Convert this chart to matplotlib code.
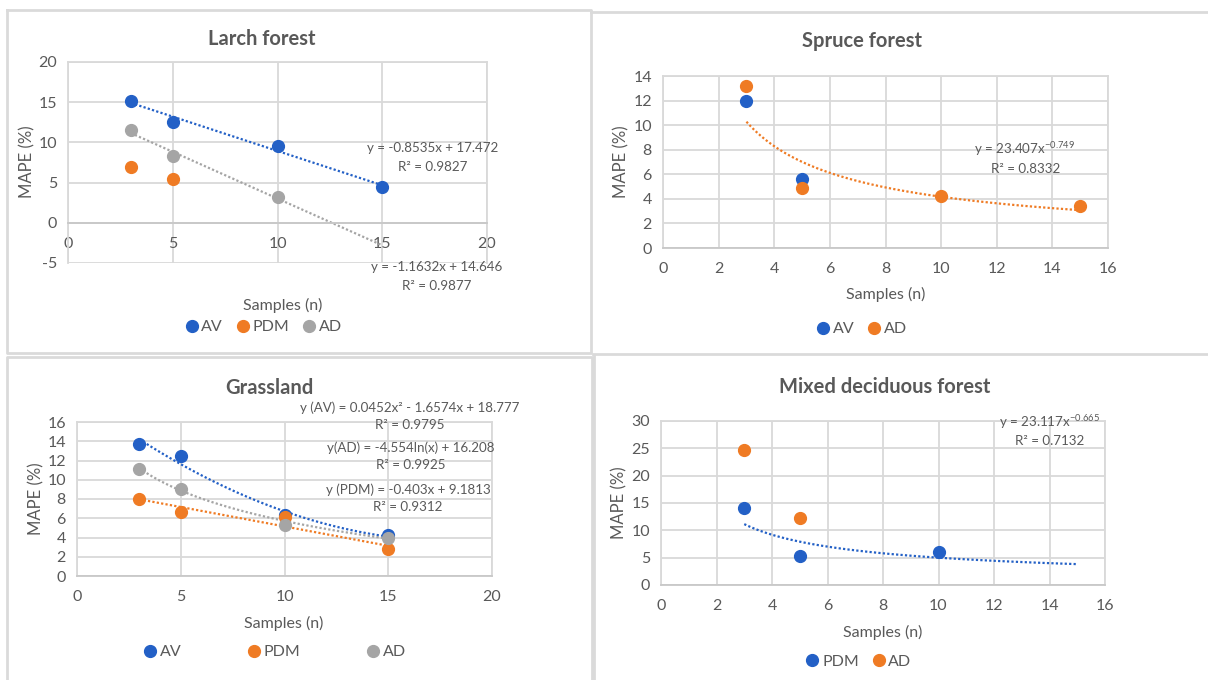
import numpy as np
import matplotlib
matplotlib.use("Agg")
import matplotlib.pyplot as plt
from matplotlib.lines import Line2D

plt.rcParams['font.family'] = ['Lato', 'DejaVu Sans']
plt.rcParams['mathtext.default'] = 'regular'
plt.rcParams['axes.unicode_minus'] = False

W, H = 1208, 680
BLUE = '#2360c6'
ORANGE = '#ef7b24'
GREY = '#a5a5a5'
TXT = '#595959'
GRID = '#d9d9d9'

# ---------------- data ----------------
larch_x = [3, 5, 10, 15]
larch_av = [15.2, 12.5, 9.6, 4.4]
larch_pdm_x = [3, 5]
larch_pdm = [7.0, 5.4]
larch_ad_x = [3, 5, 10]
larch_ad = [11.6, 8.3, 3.2]
larch_av_fit = (-0.8535, 17.472)
larch_ad_fit = (-1.1632, 14.646)

spruce_av_x = [3, 5]
spruce_av = [12.0, 5.65]
spruce_ad_x = [3, 5, 10, 15]
spruce_ad = [13.2, 4.85, 4.2, 3.4]
spruce_ad_fit = (23.407, -0.749)

grass_x = [3, 5, 10, 15]
grass_av = [13.7, 12.45, 6.3, 4.3]
grass_pdm = [8.0, 6.7, 6.1, 2.8]
grass_ad = [11.1, 9.05, 5.3, 4.0]
grass_av_fit = (0.0452, -1.6574, 18.777)
grass_ad_fit = (-4.554, 16.208)
grass_pdm_fit = (-0.403, 9.1813)

mixed_pdm_x = [3, 5, 10]
mixed_pdm = [14.1, 5.35, 6.0]
mixed_ad_x = [3, 5]
mixed_ad = [24.7, 12.25]
mixed_pdm_fit = (23.117, -0.665)

fit_x = np.linspace(3, 15, 100)

fig = plt.figure(figsize=(W / 100, H / 100), dpi=100)


def fx(x):
    return x / W


def fy(y):
    return 1 - y / H


def add_ax(x0, y0, x1, y1):
    return fig.add_axes([fx(x0), fy(y1), (x1 - x0) / W, (y1 - y0) / H])


def style(ax, xlim, xticks, ylim, yticks):
    ax.set_xlim(*xlim)
    ax.set_ylim(*ylim)
    ax.set_xticks(xticks)
    ax.set_yticks(yticks)
    ax.grid(True, color=GRID, lw=1.3)
    ax.set_axisbelow(True)
    for s in ax.spines.values():
        s.set_color(GRID)
        s.set_linewidth(1.3)
    ax.spines['bottom'].set_color('#c8c8c8')
    ax.tick_params(length=0, labelsize=11.5, labelcolor=TXT)
    ax.tick_params(axis='x', pad=10)
    ax.tick_params(axis='y', pad=8)


def ftext(x, y, s, **kw):
    kw.setdefault('color', TXT)
    kw.setdefault('fontsize', 9.6)
    kw.setdefault('ha', 'center')
    kw.setdefault('va', 'center')
    fig.text(fx(x), fy(y), s, **kw)


def legend(ax, handles, x, y, spacing=1.0):
    ax.legend(handles=handles, loc='center', bbox_to_anchor=(fx(x), fy(y)),
              bbox_transform=fig.transFigure, ncol=len(handles), frameon=False,
              handlelength=0.5, handletextpad=0.35, columnspacing=spacing,
              fontsize=11.5, labelcolor=TXT)


def mk(color, label):
    return Line2D([], [], marker='o', ls='none', color=color, markersize=8.5, label=label)


DOT = (0, (1, 1))
MS = 8.5
TSIZE = 14.5
LSIZE = 11.5
YSIZE = 12

# ---------------- panel borders ----------------
border_kw = dict(color='#dadada', lw=2, transform=fig.transFigure)
fig.add_artist(Line2D([fx(7), fx(591), fx(591), fx(7), fx(7)],
                      [fy(10), fy(10), fy(353), fy(353), fy(10)], **border_kw))
fig.add_artist(Line2D([fx(591), fx(1210)], [fy(12), fy(12)], **border_kw))
fig.add_artist(Line2D([fx(593), fx(1210)], [fy(354), fy(354)], **border_kw))
fig.add_artist(Line2D([fx(7), fx(7), fx(592), fx(592)],
                      [fy(690), fy(357), fy(357), fy(690)], **border_kw))
fig.add_artist(Line2D([fx(594), fx(594)], [fy(355), fy(690)], **border_kw))

# ---------------- Larch forest ----------------
ax = add_ax(68, 62, 487, 263)
style(ax, (0, 20), [0, 5, 10, 15, 20], (-5, 20), [-5, 0, 5, 10, 15, 20])
ax.spines['bottom'].set_position(('data', 0))
ax.plot(fit_x, larch_av_fit[0] * fit_x + larch_av_fit[1], ls=DOT, lw=1.6, color=BLUE)
ax.plot(fit_x, larch_ad_fit[0] * fit_x + larch_ad_fit[1], ls=DOT, lw=1.6, color=GREY)
ax.plot(larch_x, larch_av, 'o', color=BLUE, ms=MS)
ax.plot(larch_pdm_x, larch_pdm, 'o', color=ORANGE, ms=MS)
ax.plot(larch_ad_x, larch_ad, 'o', color=GREY, ms=MS)
ftext(262, 39, 'Larch forest', fontsize=TSIZE, fontweight='bold')
ftext(283, 305, 'Samples (n)', fontsize=LSIZE)
ftext(27, 162, 'MAPE (%)', fontsize=YSIZE, rotation=90)
ftext(433, 148, 'y = -0.8535x + 17.472')
ftext(433, 167, 'R² = 0.9827')
ftext(437, 267, 'y = -1.1632x + 14.646')
ftext(437, 286, 'R² = 0.9877')
legend(ax, [mk(BLUE, 'AV'), mk(ORANGE, 'PDM'), mk(GREY, 'AD')], 265, 327)

# ---------------- Spruce forest ----------------
ax = add_ax(663, 76, 1108, 248)
style(ax, (0, 16), list(range(0, 17, 2)), (0, 14), list(range(0, 15, 2)))
ax.plot(fit_x, spruce_ad_fit[0] * fit_x ** spruce_ad_fit[1], ls=DOT, lw=1.6, color=ORANGE)
ax.plot(spruce_av_x, spruce_av, 'o', color=BLUE, ms=MS)
ax.plot(spruce_ad_x, spruce_ad, 'o', color=ORANGE, ms=MS)
ftext(862, 41, 'Spruce forest', fontsize=TSIZE, fontweight='bold')
ftext(886, 294, 'Samples (n)', fontsize=LSIZE)
ftext(621, 162, 'MAPE (%)', fontsize=YSIZE, rotation=90)
ftext(1025, 149, 'y = 23.407x$^{-0.749}$')
ftext(1026, 169, 'R² = 0.8332')
legend(ax, [mk(BLUE, 'AV'), mk(ORANGE, 'AD')], 863, 329)

# ---------------- Grassland ----------------
ax = add_ax(77, 422, 492, 576)
style(ax, (0, 20), [0, 5, 10, 15, 20], (0, 16), list(range(0, 17, 2)))
a, b, c = grass_av_fit
ax.plot(fit_x, a * fit_x ** 2 + b * fit_x + c, ls=DOT, lw=1.6, color=BLUE)
ax.plot(fit_x, grass_ad_fit[0] * np.log(fit_x) + grass_ad_fit[1], ls=DOT, lw=1.6, color=GREY)
ax.plot(fit_x, grass_pdm_fit[0] * fit_x + grass_pdm_fit[1], ls=DOT, lw=1.6, color=ORANGE)
ax.plot(grass_x, grass_av, 'o', color=BLUE, ms=MS)
ax.plot(grass_x, grass_pdm, 'o', color=ORANGE, ms=MS)
ax.plot(grass_x, grass_ad, 'o', color=GREY, ms=MS)
ftext(269, 388, 'Grassland', fontsize=TSIZE, fontweight='bold')
ftext(284, 623, 'Samples (n)', fontsize=LSIZE)
ftext(36, 499, 'MAPE (%)', fontsize=YSIZE, rotation=90)
ftext(410, 408, 'y (AV) = 0.0452x² - 1.6574x + 18.777')
ftext(410, 425, 'R² = 0.9795')
ftext(411, 448, 'y(AD) = -4.554ln(x) + 16.208')
ftext(411, 465, 'R² = 0.9925')
ftext(408, 490, 'y (PDM) = -0.403x + 9.1813')
ftext(408, 507, 'R² = 0.9312')
legend(ax, [mk(BLUE, 'AV'), mk(ORANGE, 'PDM'), mk(GREY, 'AD')], 276, 652, spacing=4.3)

# ---------------- Mixed deciduous forest ----------------
ax = add_ax(661, 421, 1105, 585)
style(ax, (0, 16), list(range(0, 17, 2)), (0, 30), list(range(0, 31, 5)))
ax.plot(fit_x, mixed_pdm_fit[0] * fit_x ** mixed_pdm_fit[1], ls=DOT, lw=1.6, color=BLUE)
ax.plot(mixed_pdm_x, mixed_pdm, 'o', color=BLUE, ms=MS)
ax.plot(mixed_ad_x, mixed_ad, 'o', color=ORANGE, ms=MS)
ftext(885, 387, 'Mixed deciduous forest', fontsize=TSIZE, fontweight='bold')
ftext(883, 632, 'Samples (n)', fontsize=LSIZE)
ftext(619, 503, 'MAPE (%)', fontsize=YSIZE, rotation=90)
ftext(1050, 422, 'y = 23.117x$^{-0.665}$')
ftext(1050, 441, 'R² = 0.7132')
legend(ax, [mk(BLUE, 'PDM'), mk(ORANGE, 'AD')], 860, 662)

fig.savefig('out.png', dpi=100)
